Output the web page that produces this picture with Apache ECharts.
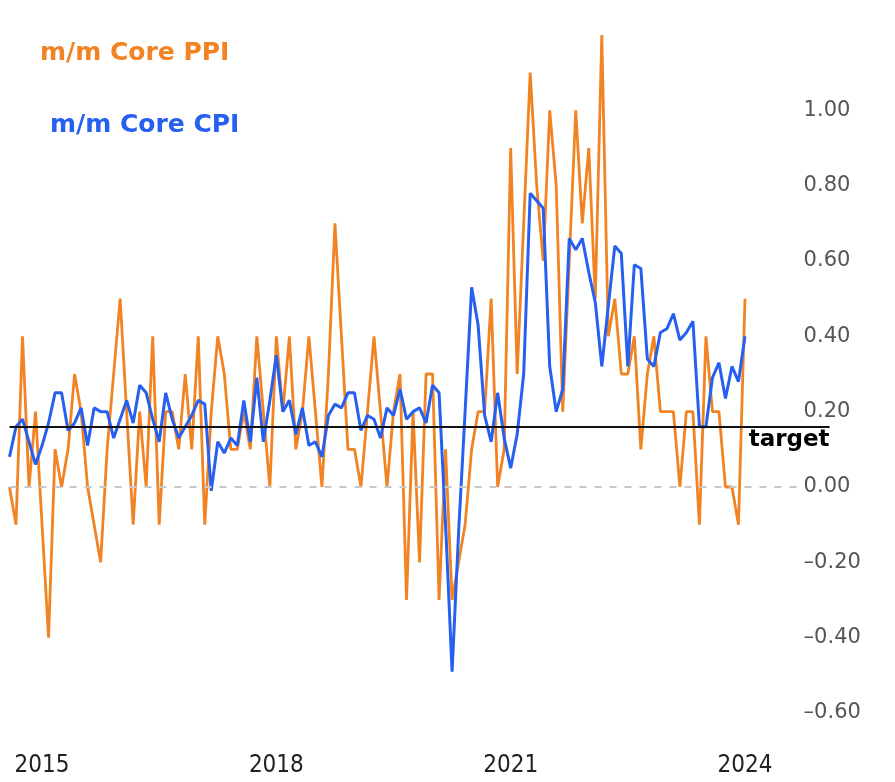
<!DOCTYPE html>
<html>
<head>
<meta charset="utf-8">
<title>m/m Core PPI vs Core CPI</title>
<script src="https://cdn.jsdelivr.net/npm/echarts@6/dist/echarts.min.js"></script>
<style>
  html, body { margin: 0; padding: 0; background: #ffffff; }
  #chart { width: 895px; height: 782px; }
</style>
</head>
<body>
<div id="chart"></div>
<script>
// monthly values, Aug 2014 -> Jan 2024
const ppiCore = [
  0.0, -0.1, 0.4, 0.0, 0.2,                                   // 2014 Aug-Dec
  -0.1, -0.4, 0.1, 0.0, 0.1, 0.3, 0.2, 0.0, -0.1, -0.2, 0.1, 0.3, // 2015
  0.5, 0.2, -0.1, 0.2, 0.0, 0.4, -0.1, 0.2, 0.2, 0.1, 0.3, 0.1,   // 2016
  0.4, -0.1, 0.2, 0.4, 0.3, 0.1, 0.1, 0.2, 0.1, 0.4, 0.2, 0.0,    // 2017
  0.4, 0.2, 0.4, 0.1, 0.2, 0.4, 0.2, 0.0, 0.3, 0.7, 0.4, 0.1,     // 2018
  0.1, 0.0, 0.2, 0.4, 0.2, 0.0, 0.2, 0.3, -0.3, 0.2, -0.2, 0.3,   // 2019
  0.3, -0.3, 0.1, -0.3, -0.2, -0.1, 0.1, 0.2, 0.2, 0.5, 0.0, 0.1, // 2020
  0.9, 0.3, 0.7, 1.1, 0.8, 0.6, 1.0, 0.8, 0.2, 0.6, 1.0, 0.7,     // 2021
  0.9, 0.5, 1.2, 0.4, 0.5, 0.3, 0.3, 0.4, 0.1, 0.3, 0.4, 0.2,     // 2022
  0.2, 0.2, 0.0, 0.2, 0.2, -0.1, 0.4, 0.2, 0.2, 0.0, 0.0, -0.1,   // 2023
  0.5                                                          // 2024 Jan
];
const cpiCore = [
  0.08, 0.16, 0.18, 0.12, 0.06,
  0.11, 0.17, 0.25, 0.25, 0.15, 0.17, 0.21, 0.11, 0.21, 0.20, 0.20, 0.13,
  0.18, 0.23, 0.17, 0.27, 0.25, 0.18, 0.12, 0.25, 0.18, 0.13, 0.16, 0.19,
  0.23, 0.22, -0.01, 0.12, 0.09, 0.13, 0.11, 0.23, 0.12, 0.29, 0.12, 0.23,
  0.35, 0.20, 0.23, 0.14, 0.21, 0.11, 0.12, 0.08, 0.19, 0.22, 0.21, 0.25,
  0.25, 0.15, 0.19, 0.18, 0.13, 0.21, 0.19, 0.26, 0.18, 0.20, 0.21, 0.17,
  0.27, 0.25, -0.10, -0.49, -0.12, 0.20, 0.53, 0.43, 0.19, 0.12, 0.25, 0.13,
  0.05, 0.14, 0.30, 0.78, 0.76, 0.74, 0.32, 0.20, 0.26, 0.66, 0.63, 0.66,
  0.57, 0.49, 0.32, 0.48, 0.64, 0.62, 0.32, 0.59, 0.58, 0.34, 0.32, 0.41,
  0.42, 0.46, 0.39, 0.41, 0.44, 0.16, 0.16, 0.29, 0.33, 0.235, 0.32, 0.28,
  0.40
];
const yearLabels = ['2015', '2018', '2021', '2024'];
const target = 0.16;
const zeroLineEnd = '2024-10';

// month categories, the axis runs on a few months past the last print
const months = [];
for (let i = 0; i < 127; i++) {
    const m = 7 + i;
    months.push(`${2014 + Math.floor(m / 12)}-${String(m % 12 + 1).padStart(2, '0')}`);
}

const orange = '#F28322';
const blue = '#2660F0';
const legendFont = { fontSize: 25, fontWeight: 'bold', fontFamily: 'DejaVu Sans' };

const chart = echarts.init(document.getElementById('chart'));
chart.setOption({
    backgroundColor: '#ffffff',
    animation: false,
    legend: [
        { data: ['m/m Core PPI'], left: 35, top: 41, padding: 0, icon: 'none', itemWidth: 0, selectedMode: false,
          textStyle: Object.assign({ color: orange }, legendFont) },
        { data: ['m/m Core CPI'], left: 45, top: 113, padding: 0, icon: 'none', itemWidth: 0, selectedMode: false,
          textStyle: Object.assign({ color: blue }, legendFont) }
    ],
    grid: { left: 9.5, right: 65.4, top: 35, bottom: 69 },
    xAxis: {
        type: 'category',
        data: months,
        boundaryGap: false,
        axisLine: { show: false },
        axisTick: { show: false },
        splitLine: { show: false },
        axisLabel: {
            interval: (idx, value) => value.endsWith('-01') && yearLabels.includes(value.slice(0, 4)),
            formatter: v => v.slice(0, 4),
            margin: 41,
            color: '#222',
            fontSize: 24,
            fontFamily: "'DejaVu Sans Condensed', 'Liberation Sans', sans-serif"
        }
    },
    yAxis: {
        type: 'value',
        position: 'right',
        offset: -26,
        min: -0.6,
        max: 1.2,
        interval: 0.2,
        axisLine: { show: false },
        axisTick: { show: false },
        splitLine: { show: false },
        axisLabel: {
            margin: 0,
            color: '#555',
            fontSize: 21,
            fontFamily: 'DejaVu Sans',
            formatter: v => {
                if (v > 1.1) return '';
                if (Math.abs(v) < 1e-9) return '0.00';
                return (v < 0 ? '\u2013' : '') + Math.abs(v).toFixed(2);
            }
        }
    },
    series: [
        {
            name: 'm/m Core PPI',
            type: 'line',
            data: ppiCore,
            showSymbol: false,
            lineStyle: { color: orange, width: 2.8 },
            itemStyle: { color: orange },
            z: 2,
            markLine: {
                silent: true,
                symbol: 'none',
                animation: false,
                data: [
                    [
                        { coord: [months[0], 0], lineStyle: { color: '#c8c8c8', width: 2, type: [7, 8] }, label: { show: false } },
                        { coord: [zeroLineEnd, 0] }
                    ],
                    {
                        yAxis: target,
                        lineStyle: { color: '#111', width: 2, type: 'solid' },
                        label: {
                            show: true,
                            formatter: 'target',
                            position: 'insideEndBottom',
                            distance: [0, 2],
                            color: '#000',
                            fontSize: 23,
                            fontWeight: 'bold',
                            fontFamily: 'DejaVu Sans'
                        }
                    }
                ]
            }
        },
        {
            name: 'm/m Core CPI',
            type: 'line',
            data: cpiCore,
            showSymbol: false,
            lineStyle: { color: blue, width: 3 },
            itemStyle: { color: blue },
            z: 3
        }
    ]
});
</script>
</body>
</html>
